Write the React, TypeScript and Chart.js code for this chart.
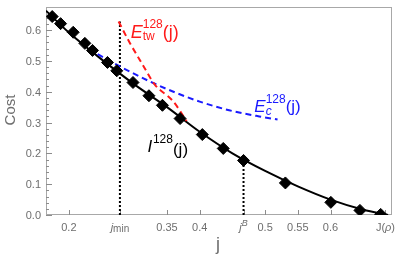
import React, { useEffect, useRef } from "react";
import { Chart, registerables } from "chart.js";

Chart.register(...registerables);

// Simulated cost samples (diamonds)
const sampleJ = [0.1745, 0.1873, 0.2066, 0.2244, 0.2361, 0.259, 0.2732, 0.298, 0.3224, 0.343, 0.37, 0.404, 0.436, 0.467, 0.531, 0.6005, 0.645, 0.6767];
const sampleCost = [0.644, 0.621, 0.593, 0.557, 0.534, 0.495, 0.468, 0.43, 0.387, 0.356, 0.313, 0.261, 0.216, 0.177, 0.104, 0.041, 0.015, 0.002];

// I^128(j) curve (solid black)
const curveIJ = [0.165, 0.2, 0.25, 0.3, 0.35, 0.4, 0.45, 0.5, 0.55, 0.6, 0.65, 0.688];
const curveICost = [0.663, 0.592, 0.505, 0.424, 0.35, 0.27, 0.2, 0.143, 0.093, 0.05, 0.017, 0.0];

// E_tw^128(j) curve (red dashed)
const curveTwJ = [0.276, 0.293, 0.313, 0.331, 0.359, 0.38];
const curveTwCost = [0.628, 0.559, 0.487, 0.424, 0.37, 0.305];

// E_c^128(j) curve (blue dashed)
const curveCJ = [0.244, 0.278, 0.323, 0.362, 0.4, 0.445, 0.491, 0.519];
const curveCCost = [0.522, 0.482, 0.434, 0.398, 0.368, 0.34, 0.32, 0.31];

// Special j values
const jMin = 0.278;
const jMinTop = 0.628;
const jB = 0.467;
const jBTop = 0.177;
const jRho = 0.684;

// Axis ticks
const xTickValues = [0.2, jMin, 0.35, 0.4, jB, 0.5, 0.55, 0.6, jRho];
const xTickLabels = ["0.2", "jmin", "0.35", "0.4", "jB", "0.5", "0.55", "0.6", "J(ρ)"];
const yTickValues = [0, 0.1, 0.2, 0.3, 0.4, 0.5, 0.6];
const yTickLabels = ["0.0", "0.1", "0.2", "0.3", "0.4", "0.5", "0.6"];

const FAMILY = '"Liberation Sans", Arial, sans-serif';
const GRAY = "#6e6e6e";

type Run = { t: string; size: number; italic?: boolean; dy?: number; stack?: boolean };

function fontOf(r: Run) {
  return `${r.italic ? "italic " : ""}${r.size}px ${FAMILY}`;
}

function drawRuns(ctx: CanvasRenderingContext2D, x: number, y: number, runs: Run[], align: string, color: string) {
  const widths = runs.map((r) => {
    ctx.font = fontOf(r);
    return ctx.measureText(r.t).width;
  });
  let total = 0;
  let pending = 0;
  runs.forEach((r, i) => {
    if (r.stack) pending = widths[i];
    else {
      total += Math.max(widths[i], pending);
      pending = 0;
    }
  });
  let cx = align === "left" ? x : align === "center" ? x - total / 2 : x - total;
  pending = 0;
  ctx.fillStyle = color;
  ctx.textAlign = "left";
  ctx.textBaseline = "alphabetic";
  runs.forEach((r, i) => {
    ctx.font = fontOf(r);
    ctx.fillText(r.t, cx, y + (r.dy || 0));
    if (r.stack) pending = widths[i];
    else {
      cx += Math.max(widths[i], pending);
      pending = 0;
    }
  });
}

function xLabelRuns(label: string): Run[] {
  if (label === "jmin") return [{ t: "j", size: 11, italic: true }, { t: "min", size: 10, dy: 1 }];
  if (label === "jB") return [{ t: "j", size: 11, italic: true }, { t: "B", size: 9, italic: true, dy: -5 }];
  if (label === "J(ρ)") return [{ t: "J(", size: 11 }, { t: "ρ", size: 11, italic: true }, { t: ")", size: 11 }];
  return [{ t: label, size: 11 }];
}

const framePlugin = {
  id: "frameAxes",
  beforeDatasetsDraw(chart: any) {
    const ctx: CanvasRenderingContext2D = chart.ctx;
    const { left, right, top, bottom } = chart.chartArea;
    const xs = chart.scales.x;
    const ys = chart.scales.y;
    ctx.save();
    ctx.strokeStyle = "#a8a8a8";
    ctx.lineWidth = 1;
    ctx.strokeRect(left + 0.5, top + 0.5, right - left - 1, bottom - top - 1);
    ctx.strokeStyle = "#8c8c8c";
    // y ticks
    for (let k = 0; k <= 33; k++) {
      const v = k * 0.02;
      const py = Math.round(ys.getPixelForValue(v)) + 0.5;
      const major = k % 5 === 0;
      ctx.beginPath();
      ctx.moveTo(left, py);
      ctx.lineTo(left + (major ? 6 : 3), py);
      ctx.stroke();
    }
    // x ticks
    xTickValues.forEach((v) => {
      const px = Math.round(xs.getPixelForValue(v)) + 0.5;
      ctx.beginPath();
      ctx.moveTo(px, bottom);
      ctx.lineTo(px, bottom - 5);
      ctx.stroke();
    });
    ctx.restore();
  },
  afterDraw(chart: any) {
    const ctx: CanvasRenderingContext2D = chart.ctx;
    const { left, bottom } = chart.chartArea;
    const xs = chart.scales.x;
    const ys = chart.scales.y;
    ctx.save();
    // y tick labels
    yTickValues.forEach((v, i) => {
      const py = ys.getPixelForValue(v);
      drawRuns(ctx, left - 5, py + 4, [{ t: yTickLabels[i], size: 11 }], "right", GRAY);
    });
    // x tick labels
    xTickValues.forEach((v, i) => {
      const px = xs.getPixelForValue(v);
      drawRuns(ctx, px, bottom + 16, xLabelRuns(xTickLabels[i]), "center", GRAY);
    });
    // axis titles
    drawRuns(ctx, (left + chart.chartArea.right) / 2 - 1, bottom + 35, [{ t: "j", size: 18 }], "center", GRAY);
    ctx.save();
    ctx.translate(15, 110);
    ctx.rotate(-Math.PI / 2);
    drawRuns(ctx, 0, 0, [{ t: "Cost", size: 15 }], "center", GRAY);
    ctx.restore();

    // curve labels
    const tx = xs.getPixelForValue(0.2945);
    const ty = ys.getPixelForValue(0.575);
    drawRuns(ctx, tx, ty, [
      { t: "E", size: 18, italic: true },
      { t: "128", size: 12, dy: -9.5, stack: true },
      { t: "tw", size: 12, dy: 2.5 },
      { t: "(j)", size: 18 },
    ], "left", "#ff1a1a");

    const cx = xs.getPixelForValue(0.4835);
    const cy = ys.getPixelForValue(0.335);
    drawRuns(ctx, cx, cy, [
      { t: "E", size: 17, italic: true },
      { t: "128", size: 12, dy: -9, stack: true },
      { t: "c", size: 12, italic: true, dy: 3 },
      { t: "(j)", size: 17 },
    ], "left", "#1a1aff");

    const ix = xs.getPixelForValue(0.32);
    const iy = ys.getPixelForValue(0.203);
    drawRuns(ctx, ix, iy, [
      { t: "I", size: 17, italic: true },
      { t: " ", size: 3 },
      { t: "128", size: 12, dy: -9 },
      { t: "(j)", size: 17, dy: 3 },
    ], "left", "#000000");
    ctx.restore();
  },
};

function toPoints(xs: number[], ys: number[]) {
  return xs.map((x, i) => ({ x, y: ys[i] }));
}

export default function App() {
  const canvasRef = useRef<HTMLCanvasElement | null>(null);

  useEffect(() => {
    const canvas = canvasRef.current;
    if (!canvas) return;
    const chart = new Chart(canvas, {
      type: "line",
      data: {
        datasets: [
          {
            label: "samples",
            data: toPoints(sampleJ, sampleCost),
            showLine: false,
            pointStyle: "rectRot",
            pointRadius: 6,
            pointBorderWidth: 1,
            pointBackgroundColor: "#000",
            pointBorderColor: "#000",
            borderColor: "#000",
          },
          {
            label: "Etw",
            data: toPoints(curveTwJ, curveTwCost),
            borderColor: "#ff1a1a",
            borderWidth: 2,
            borderDash: [6, 4],
            pointRadius: 0,
            cubicInterpolationMode: "monotone",
            fill: false,
          },
          {
            label: "Ec",
            data: toPoints(curveCJ, curveCCost),
            borderColor: "#1a1aff",
            borderWidth: 2,
            borderDash: [6, 4],
            pointRadius: 0,
            cubicInterpolationMode: "monotone",
            fill: false,
          },
          {
            label: "I",
            data: toPoints(curveIJ, curveICost),
            borderColor: "#000",
            borderWidth: 2,
            pointRadius: 0,
            cubicInterpolationMode: "monotone",
            fill: false,
          },
          {
            label: "jmin",
            data: [{ x: jMin, y: 0 }, { x: jMin, y: jMinTop }],
            borderColor: "#000",
            borderWidth: 2,
            borderDash: [2, 2],
            pointRadius: 0,
            fill: false,
          },
          {
            label: "jB",
            data: [{ x: jB, y: 0 }, { x: jB, y: jBTop }],
            borderColor: "#000",
            borderWidth: 2,
            borderDash: [2, 2],
            pointRadius: 0,
            fill: false,
          },
        ],
      },
      options: {
        responsive: false,
        animation: false,
        devicePixelRatio: 1,
        layout: { padding: { left: 46, right: 6, top: 0, bottom: 48 } },
        plugins: { legend: { display: false }, tooltip: { enabled: false } },
        scales: {
          x: { type: "linear", min: 0.165, max: 0.694, display: false },
          y: { type: "linear", min: 0, max: 0.675, display: false },
        },
      },
      plugins: [framePlugin],
    } as any);
    return () => chart.destroy();
  }, []);

  return (
    <div style={{ position: "fixed", left: 0, top: 0, width: 399, height: 263, background: "#fff" }}>
      <canvas ref={canvasRef} width={399} height={263} />
    </div>
  );
}
